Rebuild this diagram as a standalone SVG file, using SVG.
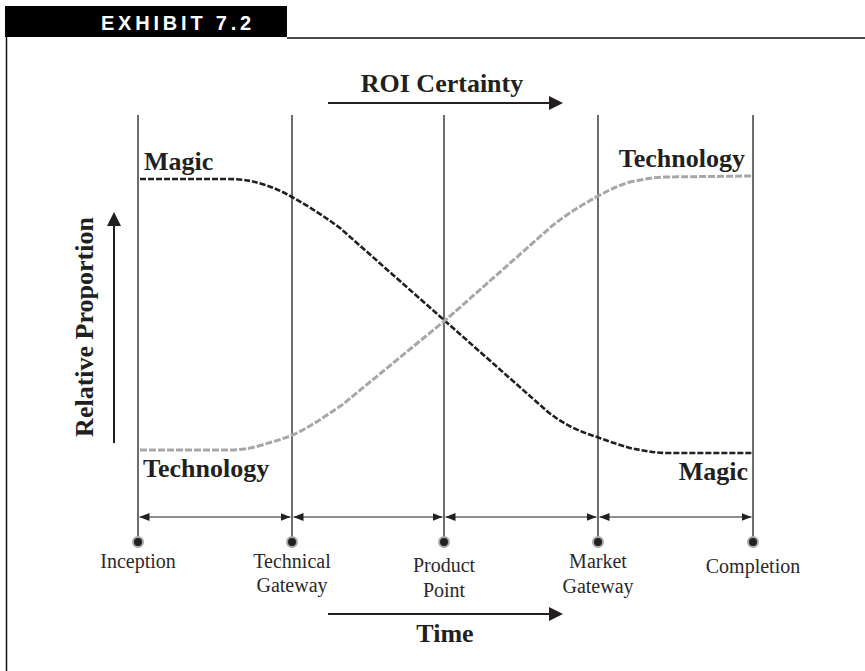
<svg xmlns="http://www.w3.org/2000/svg" width="865" height="671" viewBox="0 0 865 671">
<defs>
<style>
.frame{stroke:#111;stroke-width:1.5;fill:none}
.vline{stroke:#231f20;stroke-width:1.3;fill:none}
.dim{stroke:#231f20;stroke-width:1.2;fill:none;marker-start:url(#ah);marker-end:url(#ah)}
.big{stroke:#231f20;stroke-width:2.2;fill:none;marker-end:url(#bah)}
.dot{fill:#231f20;stroke:#a8a8a8;stroke-width:2}
.lbl{font-family:"Liberation Serif","Times New Roman",serif;font-size:20px;fill:#2b2829;text-anchor:middle}
.bold{font-family:"Liberation Serif","Times New Roman",serif;font-weight:bold;font-size:26px;fill:#231f20}
.magic{stroke:#231f20;stroke-width:2.6;stroke-dasharray:6 2;fill:none}
.tech{stroke:#a7a7a7;stroke-width:3;stroke-dasharray:7 2;fill:none}
</style>
<marker id="ah" viewBox="0 0 10 8" refX="10" refY="4" markerWidth="10" markerHeight="8" markerUnits="userSpaceOnUse" orient="auto-start-reverse">
<path d="M0,0 L10,4 L0,8 Z" fill="#231f20"/>
</marker>
<marker id="bah" viewBox="0 0 14 14" refX="2" refY="7" markerWidth="14" markerHeight="14" markerUnits="userSpaceOnUse" orient="auto">
<path d="M0,0 L14,7 L0,14 Z" fill="#231f20"/>
</marker>
</defs>

<g id="header">
<rect x="5" y="6" width="282" height="31" fill="#000"/>
<text x="178" y="30" font-family="Liberation Sans, Arial, sans-serif" font-weight="bold" font-size="20" fill="#fff" text-anchor="middle" letter-spacing="3.8">EXHIBIT 7.2</text>
<path class="frame" d="M6.5,37 V671 M287,38 H865"/>
</g>

<g id="connectors">
<path class="vline" d="M138,115 V541 M292,115 V541 M444,115 V541 M598,115 V541 M753,115 V541"/>
<line class="dim" x1="139.5" y1="517" x2="290.5" y2="517"/>
<line class="dim" x1="293.5" y1="517" x2="442.5" y2="517"/>
<line class="dim" x1="445.5" y1="517" x2="596.5" y2="517"/>
<line class="dim" x1="599.5" y1="517" x2="751.5" y2="517"/>
<line class="big" x1="328" y1="103" x2="551" y2="103"/>
<line class="big" x1="328" y1="614" x2="551" y2="614"/>
<line x1="114" y1="443" x2="114" y2="224" stroke="#231f20" stroke-width="2" marker-end="url(#bah)"/>
</g>

<g id="curves">
<path id="magic-curve" class="magic" d="M140,179 L225,179 C245,179 252,181 262,184 C275,188 283,192 292,197 C310,207 325,217 340,228 L444,320 L548,412 C563,424 580,432 597,437 C610,442 620,445 630,448 C645,451 655,453 668,453 L752,453"/>
<path id="tech-curve" class="tech" d="M140,450 L224,450 C244,450 252,448 262,445 C275,441 283,439 295,434 C313,425 327,415 342,405 L448,318 L552,226 C567,214 580,206 600,195 C613,188 620,185 630,182 C645,179 655,177 667,177 L752,176"/>
</g>

<g id="labels">
<text class="bold" x="144" y="170" font-size="27">Magic</text>
<text class="bold" x="745" y="167" text-anchor="end">Technology</text>
<text class="bold" x="143" y="477">Technology</text>
<text class="bold" x="748" y="480" text-anchor="end" font-size="27">Magic</text>
<text class="bold" x="442" y="92" text-anchor="middle" font-size="24">ROI Certainty</text>
<text class="bold" x="445" y="642" text-anchor="middle" font-size="24">Time</text>
<text class="bold" transform="translate(93,327) rotate(-90)" text-anchor="middle" font-size="27">Relative Proportion</text>
</g>

<g id="node-inception">
<circle class="dot" cx="138" cy="542" r="5"/>
<text class="lbl" x="138" y="568">Inception</text>
</g>
<g id="node-technical-gateway">
<circle class="dot" cx="292" cy="542" r="5"/>
<text class="lbl" x="292" y="568">Technical</text>
<text class="lbl" x="292" y="592">Gateway</text>
</g>
<g id="node-product-point">
<circle class="dot" cx="444" cy="542" r="5"/>
<text class="lbl" x="444" y="572">Product</text>
<text class="lbl" x="444" y="597">Point</text>
</g>
<g id="node-market-gateway">
<circle class="dot" cx="598" cy="542" r="5"/>
<text class="lbl" x="598" y="568">Market</text>
<text class="lbl" x="598" y="593">Gateway</text>
</g>
<g id="node-completion">
<circle class="dot" cx="753" cy="542" r="5"/>
<text class="lbl" x="753" y="573">Completion</text>
</g>
</svg>
